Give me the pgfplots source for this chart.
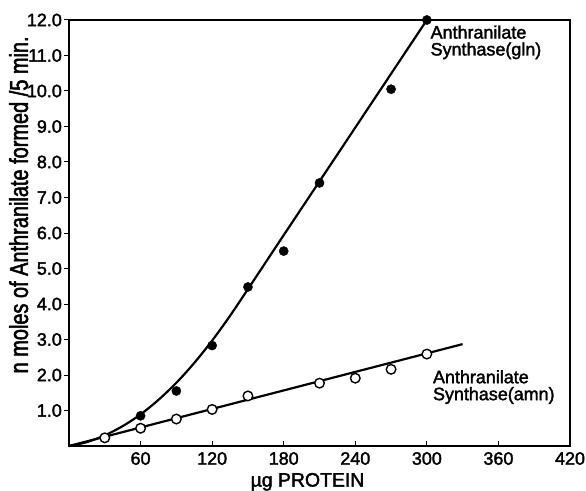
\documentclass[border=0pt]{standalone}
\usepackage{fontspec}
\setmainfont{Liberation Sans}[FakeBold=2]
\newfontfamily\narrowsans{Liberation Sans}[FakeStretch=0.77, FakeBold=2]
\usepackage{pgfplots}
\pgfplotsset{compat=1.18}

\newcommand\curvelabelfont{\fontsize{18}{17}\selectfont}
\newcommand\ylabelfont{\narrowsans\fontsize{26}{28}\selectfont}

% measured rates, nmol anthranilate per 5 min
\pgfplotstableread{
x    y
60   0.85
90   1.55
120  2.83
150  4.48
180  5.49
210  7.41
270  10.05
300  12.0
}\glndata
\pgfplotstableread{
x    y
30   0.23
60   0.50
90   0.76
120  1.03
150  1.41
210  1.77
240  1.91
270  2.16
300  2.59
}\amndata

\begin{document}
\fontsize{18}{21}\selectfont
\begin{tikzpicture}
\path[use as bounding box] (-69bp,-45bp) rectangle (517bp,446bp);
\begin{axis}[
  at={(0,0)}, anchor=south west,
  scale only axis, width=501bp, height=426bp,
  xmin=0, xmax=420, ymin=0, ymax=12,
  axis line style={line width=1.6pt},
  xtick={60,120,...,420},
  ytick={1,2,...,12},
  xtick align=inside, ytick align=outside,
  xtick pos=bottom, ytick pos=left,
  major tick length=5bp,
  tick style={line width=1pt, black},
  /pgf/number format/assume math mode=true,
  yticklabel style={xshift=4bp, /pgf/number format/.cd, fixed, fixed zerofill, precision=1},
  xticklabel style={/pgf/number format/.cd, fixed, precision=0},
  scaled ticks=false,
  xlabel={µg PROTEIN},
  ylabel={n moles of Anthranilate formed /5 min.},
  xlabel style={xshift=-12bp, yshift=4bp, font=\fontsize{19.5}{21}\selectfont},
  ylabel style={at={(axis description cs:-0.082,0.566)}, anchor=base, font=\ylabelfont},
  clip=false,
]
% fitted curves
\addplot[line width=2.2pt, smooth, tension=0.5] coordinates {
  (0,0) (15,0.11) (30,0.30) (45,0.56) (60,0.89) (75,1.30) (90,1.78)
  (105,2.34) (120,2.97) (138.5,3.84) (180,5.94) (240,8.97) (300,12.0)
};
\addplot[line width=2.2pt] coordinates {(0,0) (330,2.87)};
% data points
\addplot[only marks, mark=*, mark size=4.6bp, mark options={fill=black, draw=black}]
  table[x=x, y=y] {\glndata};
\addplot[only marks, mark=*, mark size=4.8bp, mark options={fill=white, draw=black, line width=1.4pt}]
  table[x=x, y=y] {\amndata};
% curve labels
\node[anchor=north west, align=left, inner sep=0pt, font=\curvelabelfont]
  at (axis cs:303,11.85) {Anthranilate\\Synthase(gln)};
\node[anchor=north west, align=left, inner sep=0pt, font=\curvelabelfont]
  at (axis cs:305,2.14) {Anthranilate\\Synthase(amn)};
\end{axis}
\end{tikzpicture}
\end{document}
